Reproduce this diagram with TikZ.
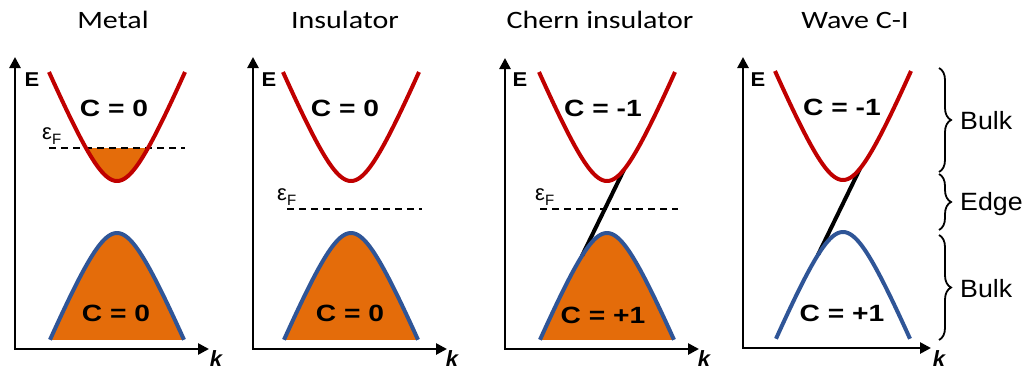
\documentclass[tikz,border=0pt]{standalone}
\usepackage{fontspec}
\setmainfont{Liberation Sans}
\newfontfamily\titlefont{Carlito}
\usetikzlibrary{arrows.meta,decorations.pathreplacing}
\definecolor{bandred}{HTML}{C00000}
\definecolor{bandblue}{HTML}{2F5597}
\definecolor{fillorange}{HTML}{E46C0A}
\begin{document}
\begin{tikzpicture}[x=1pt,y=-1pt,
  declare function={f(\t)=67*(sqrt(1+(\t/28)^2)-1);},
  axis/.style={line width=2.6pt,{Triangle[length=11pt,width=11pt]}-{Triangle[length=11pt,width=11pt]}},
  cband/.style={draw=bandred,line width=4pt},
  vband/.style={draw=bandblue,line width=4pt},
  occ/.style={fill=fillorange},
  fermi/.style={line width=1.4pt,dash pattern=on 7pt off 5pt},
  edgeline/.style={line width=4pt,black},
  title/.style={font=\titlefont\fontsize{25}{25}\selectfont,xscale=1.2,anchor=base},
  chern/.style={font=\bfseries\fontsize{23.5}{23.5}\selectfont,xscale=1.2},
  elabel/.style={font=\bfseries\fontsize{20}{20}\selectfont,xscale=1.1},
  klabel/.style={font=\bfseries\itshape\fontsize{22}{22}\selectfont},
  flabel/.style={anchor=base west,inner sep=0pt,font=\fontsize{22}{22}\selectfont},
  fsub/.style={},
  bracedec/.style={decorate,decoration={brace,amplitude=12pt},line width=1.8pt},
  bracelabel/.style={anchor=west,inner sep=0pt,font=\fontsize{25}{25}\selectfont,xscale=1.07},
]
\useasboundingbox (0,0) rectangle (1027,372);

% ---------- titles
\node[title] (t1) at (113,28) {Metal};
\node[title] (t2) at (345,28) {Insulator};
\node[title] (t3) at (600,28) {Chern insulator};
\node[title] (t4) at (855,28) {Wave C-I};

% ---------- panel 1: Metal
\coordinate (y1) at (15,57); \coordinate (o1) at (15,349); \coordinate (x1) at (209,349);
\draw[axis] (y1) -- (o1) -- (x1);
\fill[occ] plot[domain=-67:67,samples=80] ({117+\x},{233+f(\x)}) -- cycle;
\draw[vband] plot[domain=-67:67,samples=80] ({117+\x},{233+f(\x)});
\fill[occ] plot[domain=-31:31,samples=40] ({117+\x},{181-f(\x)}) -- cycle;
\coordinate (f1a) at (49,148); \coordinate (f1b) at (185,148);
\draw[fermi] (f1a) -- (f1b);
\draw[cband] plot[domain=-68:68,samples=80] ({117+\x},{181-f(\x)});
\node[elabel] (e1) at (32,80) {E};
\node[klabel] (k1) at (216,359) {k};
\node[flabel] (ef1) at (42,139) {ε\raisebox{-5pt}{\fontsize{15}{15}\selectfont F}};
\node[chern] (c1u) at (114,108) {C = 0};
\node[chern] (c1l) at (116,313) {C = 0};

% ---------- panel 2: Insulator
\coordinate (y2) at (253,57); \coordinate (o2) at (253,349); \coordinate (x2) at (447,349);
\draw[axis] (y2) -- (o2) -- (x2);
\fill[occ] plot[domain=-67:67,samples=80] ({351+\x},{233+f(\x)}) -- cycle;
\draw[vband] plot[domain=-67:67,samples=80] ({351+\x},{233+f(\x)});
\coordinate (f2a) at (287,209); \coordinate (f2b) at (422,209);
\draw[fermi] (f2a) -- (f2b);
\draw[cband] plot[domain=-68:68,samples=80] ({351+\x},{181-f(\x)});
\node[elabel] (e2) at (269,80) {E};
\node[klabel] (k2) at (452,359) {k};
\node[flabel] (ef2) at (277,200) {ε\raisebox{-5pt}{\fontsize{15}{15}\selectfont F}};
\node[chern] (c2u) at (345,108) {C = 0};
\node[chern] (c2l) at (350,313) {C = 0};

% ---------- panel 3: Chern insulator
\coordinate (y3) at (505,58); \coordinate (o3) at (505,349); \coordinate (x3) at (699,349);
\draw[axis] (y3) -- (o3) -- (x3);
\fill[occ] plot[domain=-67:67,samples=80] ({607+\x},{233+f(\x)}) -- cycle;
\coordinate (f3a) at (540,209); \coordinate (f3b) at (678,209);
\draw[fermi] (f3a) -- (f3b);
\coordinate (s3a) at ({607-25},{233+f(-25)});
\coordinate (s3b) at ({607+17},{181-f(17)});
\draw[edgeline] (s3a) -- (s3b);
\draw[vband] plot[domain=-67:67,samples=80] ({607+\x},{233+f(\x)});
\draw[cband] plot[domain=-68:68,samples=80] ({607+\x},{181-f(\x)});
\node[elabel] (e3) at (520,80) {E};
\node[klabel] (k3) at (704,359) {k};
\node[flabel] (ef3) at (535,200) {ε\raisebox{-5pt}{\fontsize{15}{15}\selectfont F}};
\node[chern] (c3u) at (603,108) {C = -1};
\node[chern] (c3l) at (603,315) {C = +1};

% ---------- panel 4: Wave C-I
\coordinate (y4) at (743,57); \coordinate (o4) at (743,348); \coordinate (x4) at (931,348);
\draw[axis] (y4) -- (o4) -- (x4);
\coordinate (s4a) at ({843-25},{232+f(-25)});
\coordinate (s4b) at ({843+17},{180-f(17)});
\draw[edgeline] (s4a) -- (s4b);
\draw[vband] plot[domain=-67:67,samples=80] ({843+\x},{232+f(\x)});
\draw[cband] plot[domain=-68:68,samples=80] ({843+\x},{180-f(\x)});
\node[elabel] (e4) at (758,80) {E};
\node[klabel] (k4) at (939,359) {k};
\node[chern] (c4u) at (842,107) {C = -1};
\node[chern] (c4l) at (842,313) {C = +1};

% ---------- braces
\coordinate (b1a) at (939,68);  \coordinate (b1b) at (939,172);
\coordinate (b2a) at (939,174); \coordinate (b2b) at (939,230);
\coordinate (b3a) at (939,235); \coordinate (b3b) at (939,340);
\draw[bracedec] (b1a) -- (b1b);
\draw[bracedec] (b2a) -- (b2b);
\draw[bracedec] (b3a) -- (b3b);
\node[bracelabel] (l1) at (960,121) {Bulk};
\node[bracelabel] (l2) at (960,204) {Edge};
\node[bracelabel] (l3) at (960,289) {Bulk};
\end{tikzpicture}
\end{document}
